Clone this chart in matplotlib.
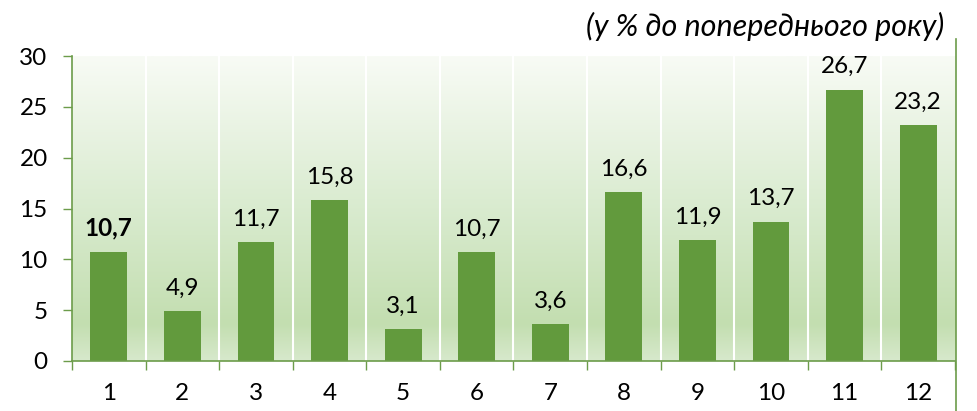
import numpy as np
import matplotlib.pyplot as plt
from matplotlib.colors import LinearSegmentedColormap
from matplotlib.lines import Line2D

categories = [str(i) for i in range(1, 13)]
values = [10.7, 4.9, 11.7, 15.8, 3.1, 10.7, 3.6, 16.6, 11.9, 13.7, 26.7, 23.2]
value_labels = ["10,7", "4,9", "11,7", "15,8", "3,1", "10,7", "3,6", "16,6", "11,9", "13,7", "26,7", "23,2"]
bold_labels = [True] + [False] * 11
y_ticks = [0, 5, 10, 15, 20, 25, 30]
title = "(у % до попереднього року)"

bar_color = "#629a3d"
axis_color = "#6c9c4a"

plt.rcParams["font.family"] = ["Lato", "DejaVu Sans"]

fig = plt.figure(figsize=(9.78, 4.11), dpi=100)
ax = fig.add_axes([0.0736, 0.1217, 0.9029, 0.742])

x = np.arange(1, len(categories) + 1)

# background gradient (top light -> green near bottom -> lighter at base)
cmap = LinearSegmentedColormap.from_list(
    "bg", [(0.0, "#d7e9cc"), (0.12, "#c3deb0"), (0.5, "#d9ebcf"), (1.0, "#f8fbf5")]
)
grad = np.linspace(0, 1, 256).reshape(-1, 1)
ax.imshow(grad, aspect="auto", cmap=cmap, origin="lower",
          extent=[0.5, 12.5, 0, 30], zorder=0)

for b in np.arange(1.5, 12.5, 1):
    ax.axvline(b, color="white", lw=1.5, zorder=1)

ax.bar(x, values, width=0.5, color=bar_color, zorder=2)

for xi, v, lab, bold in zip(x, values, value_labels, bold_labels):
    ax.annotate(lab, (xi, v), xytext=(0, 9), textcoords="offset points",
                ha="center", va="bottom", fontsize=17.5,
                fontweight="bold" if bold else "normal", color="black")

ax.set_xlim(0.5, 12.5)
ax.set_ylim(0, 30)
ax.set_yticks(y_ticks)
ax.set_xticks(x)
ax.set_xticklabels(categories)
ax.set_xticks(np.arange(0.5, 13, 1), minor=True)

ax.tick_params(axis="y", direction="out", length=6.5, width=1, color=axis_color,
               labelsize=17.5, pad=11)
ax.tick_params(axis="x", which="major", length=0, labelsize=17.5, pad=16)
ax.tick_params(axis="x", which="minor", direction="out", length=6.5, width=1,
               color=axis_color)

for side in ["top", "right"]:
    ax.spines[side].set_visible(False)
for side in ["left", "bottom"]:
    ax.spines[side].set_color(axis_color)
    ax.spines[side].set_linewidth(1.2)

fig.text(0.966, 0.935, title, ha="right", va="center", fontsize=22, style="italic")

fig.add_artist(Line2D([0.9775, 0.9775], [0.0, 0.905], transform=fig.transFigure,
                      color=axis_color, lw=1.2))

fig.savefig("out.png", dpi=100)
